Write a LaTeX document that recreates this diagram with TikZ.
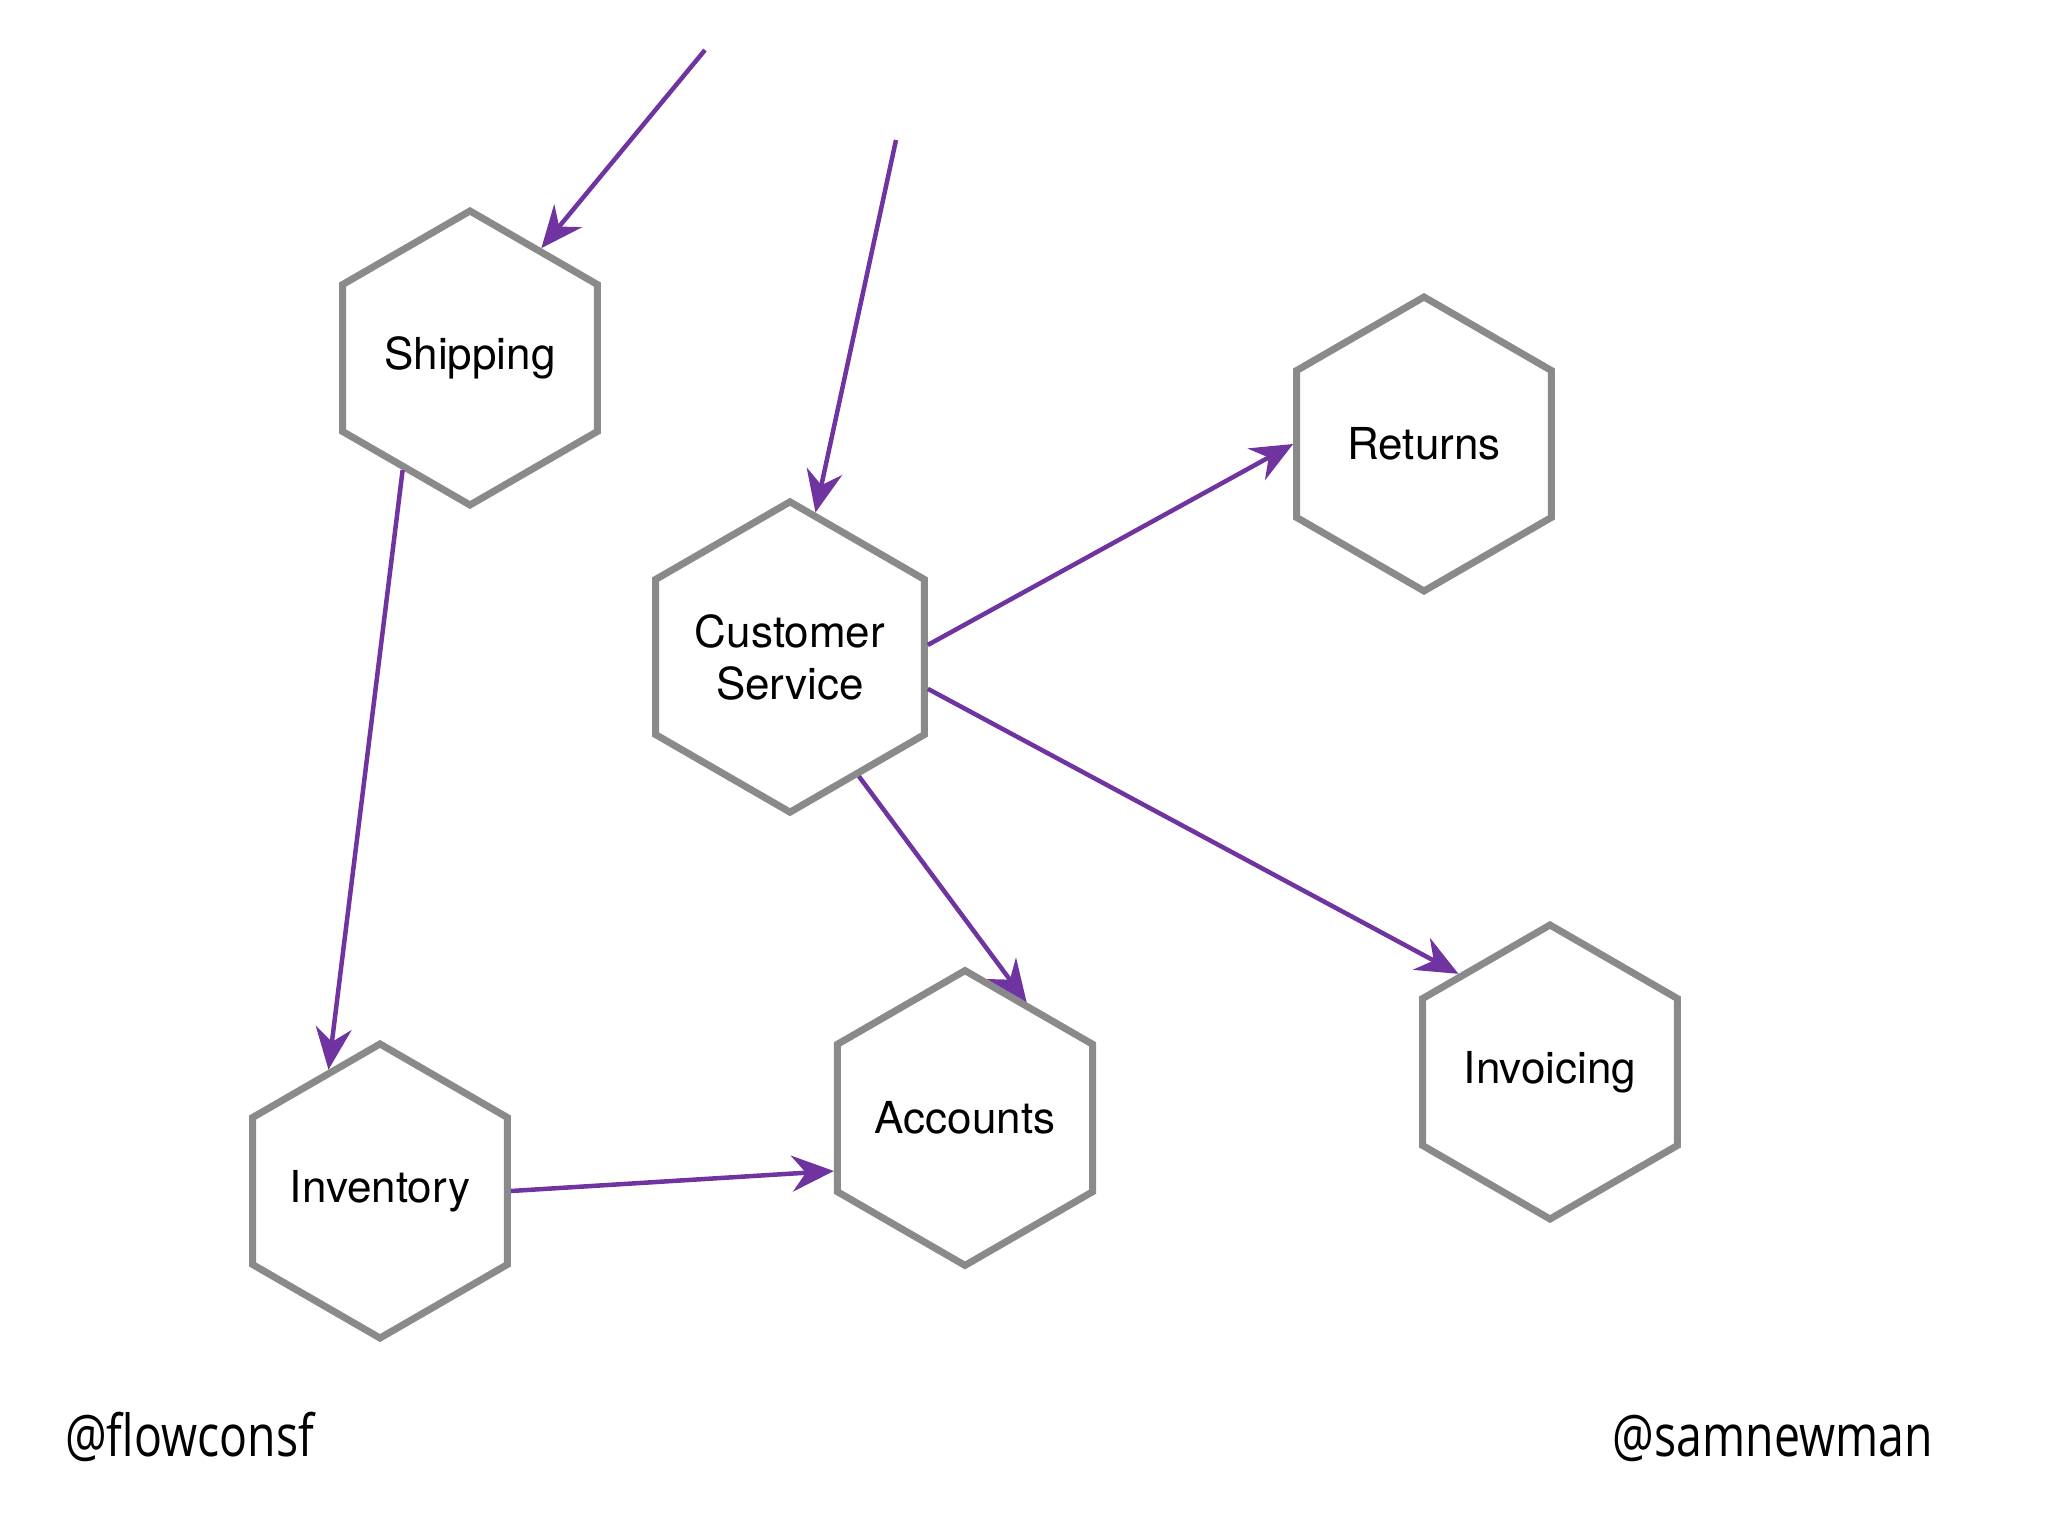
\documentclass[tikz,border=0pt]{standalone}
\usepackage{fontspec}
\setmainfont{TeX Gyre Heros}
\newfontfamily\footfont[FakeStretch=0.8]{Open Sans}
\usetikzlibrary{shapes.geometric,arrows.meta}
\definecolor{hexgray}{HTML}{8A8A8A}
\definecolor{arrowpurple}{HTML}{7034A0}
\tikzset{
  hexnode/.style={regular polygon, regular polygon sides=6, shape border rotate=90,
    minimum size=294pt, inner sep=0pt, draw=hexgray, line width=7pt,
    align=center, font=\fontsize{44}{52}\selectfont, text=black},
  arr/.style={draw=arrowpurple, line width=4.5pt,
    -{Stealth[length=42pt,width=36pt,inset=14pt]}},
  foot/.style={font=\footfont\fontsize{58}{62}\selectfont, text=black, inner sep=0pt}
}
\begin{document}
\begin{tikzpicture}[x=1pt,y=-1pt]
\useasboundingbox[fill=white] (0,0) rectangle (2048,1536);
\node[hexnode] (ship) at (470,358) {Shipping};
\node[hexnode] (cs) at (790,657) {Customer\\Service};
\node[hexnode] (ret) at (1424,444) {Returns};
\node[hexnode] (acc) at (965,1118) {Accounts};
\node[hexnode] (inv) at (1550,1072) {Invoicing};
\node[hexnode] (invt) at (380,1191) {Inventory};
\coordinate (s1) at (705,50);
\coordinate (s2) at (896,140);
\draw[arr] (s1) -- (ship.57);
\draw[arr] (s2) -- (cs.80);
\draw[arr] (ship.239) -- (invt.113);
\draw[arr] (cs.5) -- (ret.180);
\draw[arr] (cs.-13) -- (inv.133);
\draw[arr] (cs.-60) -- (acc.62);
\draw[arr] (invt.0) -- (acc.202);
\node[foot, anchor=base west] (f1) at (65,1456) {@flowconsf};
\node[foot, anchor=base east] (f2) at (1933,1456) {@samnewman};
\end{tikzpicture}
\end{document}
